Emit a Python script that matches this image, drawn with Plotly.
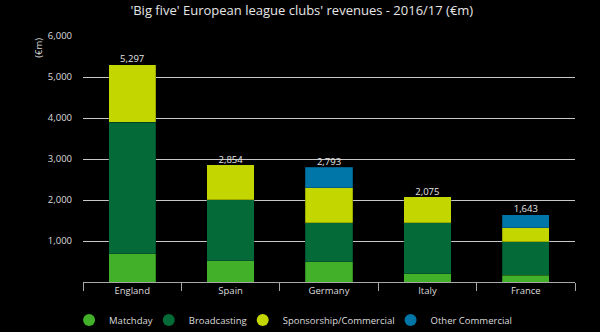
import plotly.graph_objects as go

countries = ["England", "Spain", "Germany", "Italy", "France"]
matchday = [690, 520, 490, 200, 165]
broadcasting = [3210, 1490, 950, 1240, 820]
sponsorship = [1397, 844, 860, 635, 340]
other_commercial = [0, 0, 493, 0, 318]
totals = [5297, 2854, 2793, 2075, 1643]
total_labels = ["5,297", "2,854", "2,793", "2,075", "1,643"]
y_ticks = [1000, 2000, 3000, 4000, 5000, 6000]
y_tick_labels = ["1,000", "2,000", "3,000", "4,000", "5,000", "6,000"]

series = [
    ("Matchday", matchday, "#43B02A"),
    ("Broadcasting", broadcasting, "#046A38"),
    ("Sponsorship/Commercial", sponsorship, "#C4D600"),
    ("Other Commercial", other_commercial, "#0076A8"),
]

fig = go.Figure()
for name, vals, col in series:
    fig.add_trace(go.Bar(
        x=countries, y=vals, name=name, marker=dict(color=col, line=dict(width=0.6, color="rgba(0,0,0,0.35)")),
        showlegend=False, width=0.48, hoverinfo="x+y+name",
    ))

fig.add_trace(go.Scatter(
    x=countries, y=totals, mode="text", text=total_labels, textposition="top center",
    textfont=dict(family="Open Sans", size=9.5, color="#e6e6e6"), showlegend=False, hoverinfo="skip",
    cliponaxis=False,
))

for name, vals, col in series:
    fig.add_trace(go.Scatter(
        x=[None], y=[None], mode="markers", name=name,
        marker=dict(symbol="circle", size=11, color=col), showlegend=True,
    ))

fig.update_layout(
    width=600, height=332,
    paper_bgcolor="#000000", plot_bgcolor="#000000",
    margin=dict(l=83, r=25, t=36, b=50, autoexpand=False),
    barmode="stack", bargap=0.52,
    font=dict(family="Open Sans", color="#dcdcdc", size=10),
    title=dict(text="'Big five' European league clubs' revenues - 2016/17 (€m)",
               x=0.503, xanchor="center", y=0.97, yanchor="middle",
               font=dict(family="Open Sans", size=13, color="#e6e6e6")),
    legend=dict(orientation="h", x=-0.01, xanchor="left", xref="paper",
                y=-0.154, yanchor="middle", yref="paper", traceorder="normal",
                indentation=-9,
                font=dict(family="Open Sans", size=9.5, color="#dcdcdc"),
                itemsizing="constant", itemwidth=30, tracegroupgap=0, bgcolor="rgba(0,0,0,0)"),
    xaxis=dict(showgrid=False, showline=True, linecolor="#a8a8a8", linewidth=1,
               ticks="outside", ticklen=8, tickcolor="#a8a8a8", tickwidth=1,
               tickson="boundaries", tickfont=dict(family="Open Sans", size=9.5, color="#dcdcdc")),
    yaxis=dict(range=[0, 6000], tickvals=y_ticks, ticktext=y_tick_labels,
               showgrid=True, gridcolor="#c8c8c8", gridwidth=1, zeroline=False,
               ticks="", ticklabelstandoff=10,
               tickfont=dict(family="Open Sans", size=9.5, color="#dcdcdc")),
    annotations=[dict(text="(€m)", xref="paper", yref="paper", x=-0.092, y=1.0,
                      xanchor="center", yanchor="top", textangle=-90, showarrow=False,
                      font=dict(family="Open Sans", size=9.5, color="#dcdcdc"))],
)

fig.write_html("out.html")
